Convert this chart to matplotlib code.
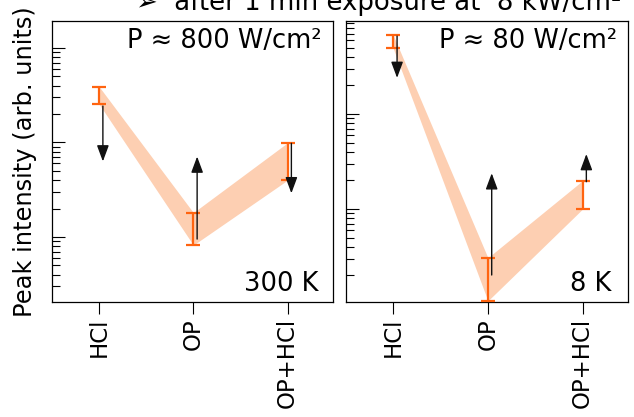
import numpy as np
import matplotlib
matplotlib.use("Agg")
import matplotlib.pyplot as plt
from matplotlib.ticker import NullFormatter, LogLocator

# --- DATA ---
categories = ["HCl", "OP", "OP+HCl"]

# 300 K, P ~ 800 W/cm^2
low_300 = [25.5, 0.82, 4.0]
high_300 = [39.0, 1.81, 9.95]
arrow_from_300 = [24.3, 0.95, 9.8]
arrow_to_300 = [6.3, 7.1, 2.9]

# 8 K, P ~ 80 W/cm^2
low_8 = [490.0, 1.08, 10.0]
high_8 = [676.0, 3.07, 19.9]
arrow_from_8 = [661.0, 2.02, 19.4]
arrow_to_8 = [240.0, 23.8, 37.9]

panels = [
    dict(low=low_300, high=high_300, a0=arrow_from_300, a1=arrow_to_300,
         power="P ≈ 800 W/cm²", temp="300 K", ylim=(0.205, 193)),
    dict(low=low_8, high=high_8, a0=arrow_from_8, a1=arrow_to_8,
         power="P ≈ 80 W/cm²", temp="8 K", ylim=(1.05, 953)),
]

ORANGE = "#ff6410"
BAND = "#fdcfb2"

fig = plt.figure(figsize=(6.34, 4.17), dpi=100)
axes = [fig.add_axes([0.082, 0.2758, 0.443, 0.6738]),
        fig.add_axes([0.5457, 0.2758, 0.4448, 0.6738])]

x = np.arange(len(categories))
for ax, p in zip(axes, panels):
    low = np.array(p["low"])
    high = np.array(p["high"])
    mid = (low + high) / 2

    ax.fill_between(x, low, high, color=BAND, lw=0, zorder=1)
    ax.errorbar(x, mid, yerr=[mid - low, high - mid], fmt="none", ecolor=ORANGE,
                elinewidth=1.6, capsize=4.8, capthick=1.6, zorder=3, clip_on=False)

    # arrows, slightly right of the error bars
    for xi, s, e in zip(x, p["a0"], p["a1"]):
        ax.annotate("", xy=(xi + 0.04, e), xytext=(xi + 0.04, s),
                    arrowprops=dict(arrowstyle="-|>,head_length=0.7,head_width=0.26",
                                    color="#111111", lw=1.0, mutation_scale=14,
                                    shrinkA=0, shrinkB=0), zorder=4)

    ax.set_yscale("log")
    ax.set_ylim(*p["ylim"])
    ax.set_xlim(-0.5, 2.48)
    ax.yaxis.set_major_locator(LogLocator(base=10))
    ax.yaxis.set_minor_locator(LogLocator(base=10, subs=np.arange(2, 10)))
    ax.yaxis.set_major_formatter(NullFormatter())
    ax.yaxis.set_minor_formatter(NullFormatter())
    ax.tick_params(axis="y", which="major", direction="in", length=9.4, width=0.8)
    ax.tick_params(axis="y", which="minor", direction="in", length=5.8, width=0.8)
    ax.set_xticks(x)
    ax.set_xticklabels(categories, rotation=90, fontsize=16.5)
    ax.tick_params(axis="x", direction="out", length=8.6, width=0.8, pad=3)
    for sp in ax.spines.values():
        sp.set_linewidth(0.9)

    ax.text(0.96, 0.905, p["power"], transform=ax.transAxes, ha="right",
            va="baseline", fontsize=18.5)
    ax.text(0.95 if p["temp"] == "300 K" else 0.94, 0.04, p["temp"],
            transform=ax.transAxes, ha="right", va="baseline", fontsize=18.5)

fig.text(25 / 634, 0.613, "Peak intensity (arb. units)", rotation=90,
         ha="center", va="center", fontsize=17.4)
# title sits mostly above the canvas, only its lower part shows
fig.text(136 / 634, 1 - 10.5 / 417, "➢  after 1 min exposure at  8 kW/cm²",
         ha="left", va="baseline", fontsize=18.7)

fig.savefig("out.png", dpi=100)
